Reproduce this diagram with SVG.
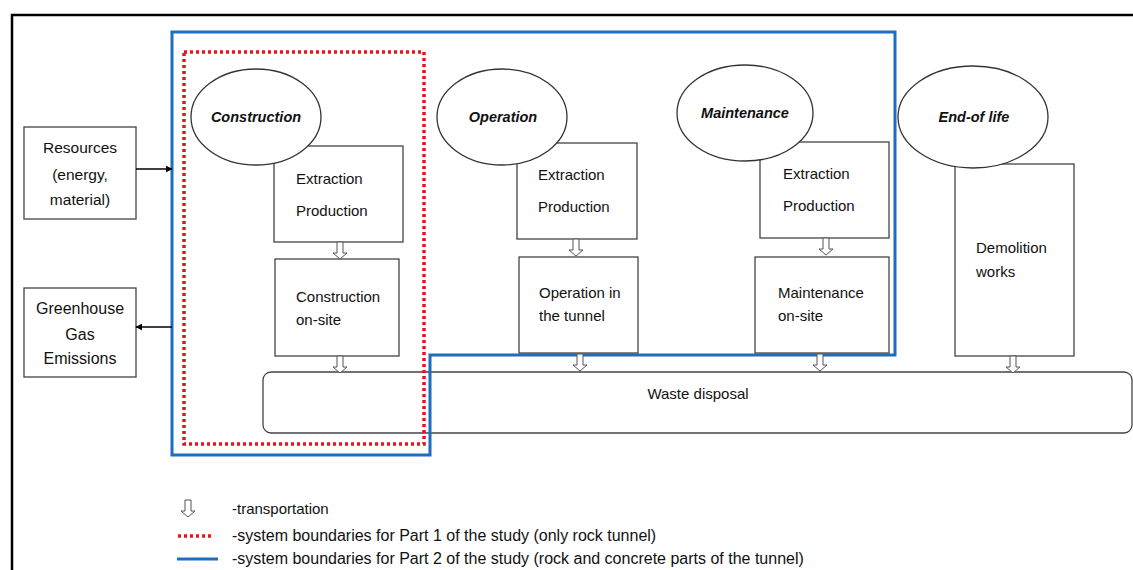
<svg xmlns="http://www.w3.org/2000/svg" width="1133" height="570" viewBox="0 0 1133 570">
<defs>
<style>
.box{fill:#fff;stroke:#444;stroke-width:1.3}
.ell{fill:#fff;stroke:#333;stroke-width:1.3}
.t{font-family:"Liberation Sans",Arial,sans-serif;font-size:15px;fill:#111}
.c{text-anchor:middle}
.h{font-family:"Liberation Sans",Arial,sans-serif;font-size:14.5px;font-weight:bold;font-style:italic;fill:#111;text-anchor:middle}
.lg{font-family:"Liberation Sans",Arial,sans-serif;font-size:16px;fill:#111}
.tr{fill:#fff;stroke:#555;stroke-width:1}
.blue{fill:none;stroke:#1f6dbf;stroke-width:3}
.red{fill:none;stroke:#e8141c;stroke-width:3.5;stroke-dasharray:3 3}
</style>
<path id="tp" class="tr" d="M-3,0 H3 V11 H7 L0,17 L-7,11 H-3 Z"/>
<marker id="ah" viewBox="0 0 10 10" refX="9" refY="5" markerWidth="7" markerHeight="7" orient="auto-start-reverse" markerUnits="userSpaceOnUse">
<path d="M0,0 L10,5 L0,10 Z" fill="#000"/>
</marker>
</defs>
<rect width="1133" height="570" fill="#fff"/>
<path d="M12,570 V15 H1133" fill="none" stroke="#000" stroke-width="2.5"/>

<g id="waste">
<rect class="box" x="263" y="372" width="869" height="61" rx="8" stroke="#666"/>
<text class="t c" x="698" y="399">Waste disposal</text>
</g>

<g id="boundaries">
<path class="blue" d="M172,32 H895 V355 H430 V455 H172 Z"/>
<rect class="red" x="184" y="52" width="240" height="392"/>
</g>

<g id="resources">
<rect class="box" x="24" y="127" width="112" height="92"/>
<text class="t c" x="80" y="153" style="font-size:15.5px">Resources</text>
<text class="t c" x="80" y="180" style="font-size:15.5px">(energy,</text>
<text class="t c" x="80" y="205" style="font-size:15.5px">material)</text>
</g>
<g id="ghg">
<rect class="box" x="24" y="288" width="112" height="89"/>
<text class="t c" x="80" y="314" style="font-size:16px">Greenhouse</text>
<text class="t c" x="80" y="340" style="font-size:16px">Gas</text>
<text class="t c" x="80" y="364" style="font-size:16px">Emissions</text>
</g>

<g id="c-extract">
<rect class="box" x="274" y="146" width="129" height="96"/>
<text class="t" x="296" y="184">Extraction</text>
<text class="t" x="296" y="216">Production</text>
</g>
<g id="c-onsite">
<rect class="box" x="275" y="259" width="124" height="97"/>
<text class="t" x="296" y="302">Construction</text>
<text class="t" x="296" y="325">on-site</text>
</g>
<g id="construction">
<ellipse class="ell" cx="256" cy="117" rx="65" ry="48"/>
<text class="h" x="256" y="122">Construction</text>
</g>

<g id="o-extract">
<rect class="box" x="517" y="143" width="120" height="96"/>
<text class="t" x="538" y="180">Extraction</text>
<text class="t" x="538" y="212">Production</text>
</g>
<g id="o-tunnel">
<rect class="box" x="519" y="257" width="119" height="96"/>
<text class="t" x="539" y="298">Operation in</text>
<text class="t" x="539" y="321">the tunnel</text>
</g>
<g id="operation">
<ellipse class="ell" cx="502" cy="117" rx="65" ry="48"/>
<text class="h" x="503" y="122">Operation</text>
</g>

<g id="m-extract">
<rect class="box" x="760" y="142" width="129" height="96"/>
<text class="t" x="783" y="179">Extraction</text>
<text class="t" x="783" y="211">Production</text>
</g>
<g id="m-onsite">
<rect class="box" x="755" y="257" width="134" height="96"/>
<text class="t" x="778" y="298">Maintenance</text>
<text class="t" x="778" y="321">on-site</text>
</g>
<g id="maintenance">
<ellipse class="ell" cx="745" cy="113" rx="68" ry="48"/>
<text class="h" x="745" y="118">Maintenance</text>
</g>

<g id="demolition">
<rect class="box" x="955" y="164" width="119" height="192"/>
<text class="t" x="976" y="253">Demolition</text>
<text class="t" x="976" y="277">works</text>
</g>
<g id="endoflife">
<ellipse class="ell" cx="973" cy="117" rx="75" ry="51"/>
<text class="h" x="974" y="122">End-of life</text>
</g>

<g id="connectors">
<line x1="136" y1="169" x2="172" y2="169" stroke="#000" stroke-width="1.3" marker-end="url(#ah)"/>
<line x1="172" y1="327" x2="136" y2="327" stroke="#000" stroke-width="1.3" marker-end="url(#ah)"/>
<use href="#tp" x="340" y="242"/>
<use href="#tp" x="340" y="356"/>
<use href="#tp" x="576" y="239"/>
<use href="#tp" x="580" y="354"/>
<use href="#tp" x="826" y="238"/>
<use href="#tp" x="820" y="354"/>
<use href="#tp" x="1013" y="356"/>
</g>

<g id="legend">
<use href="#tp" x="188" y="500"/>
<text class="lg" x="232" y="514" style="font-size:15px">-transportation</text>
<line x1="178" y1="536" x2="214" y2="536" stroke="#e8141c" stroke-width="3.5" stroke-dasharray="3 3"/>
<text class="lg" x="232" y="541">-system boundaries for Part 1 of the study (only rock tunnel)</text>
<line x1="177" y1="559" x2="218" y2="559" stroke="#1f6dbf" stroke-width="3"/>
<text class="lg" x="232" y="564">-system boundaries for Part 2 of the study (rock and concrete parts of the tunnel)</text>
</g>
</svg>
